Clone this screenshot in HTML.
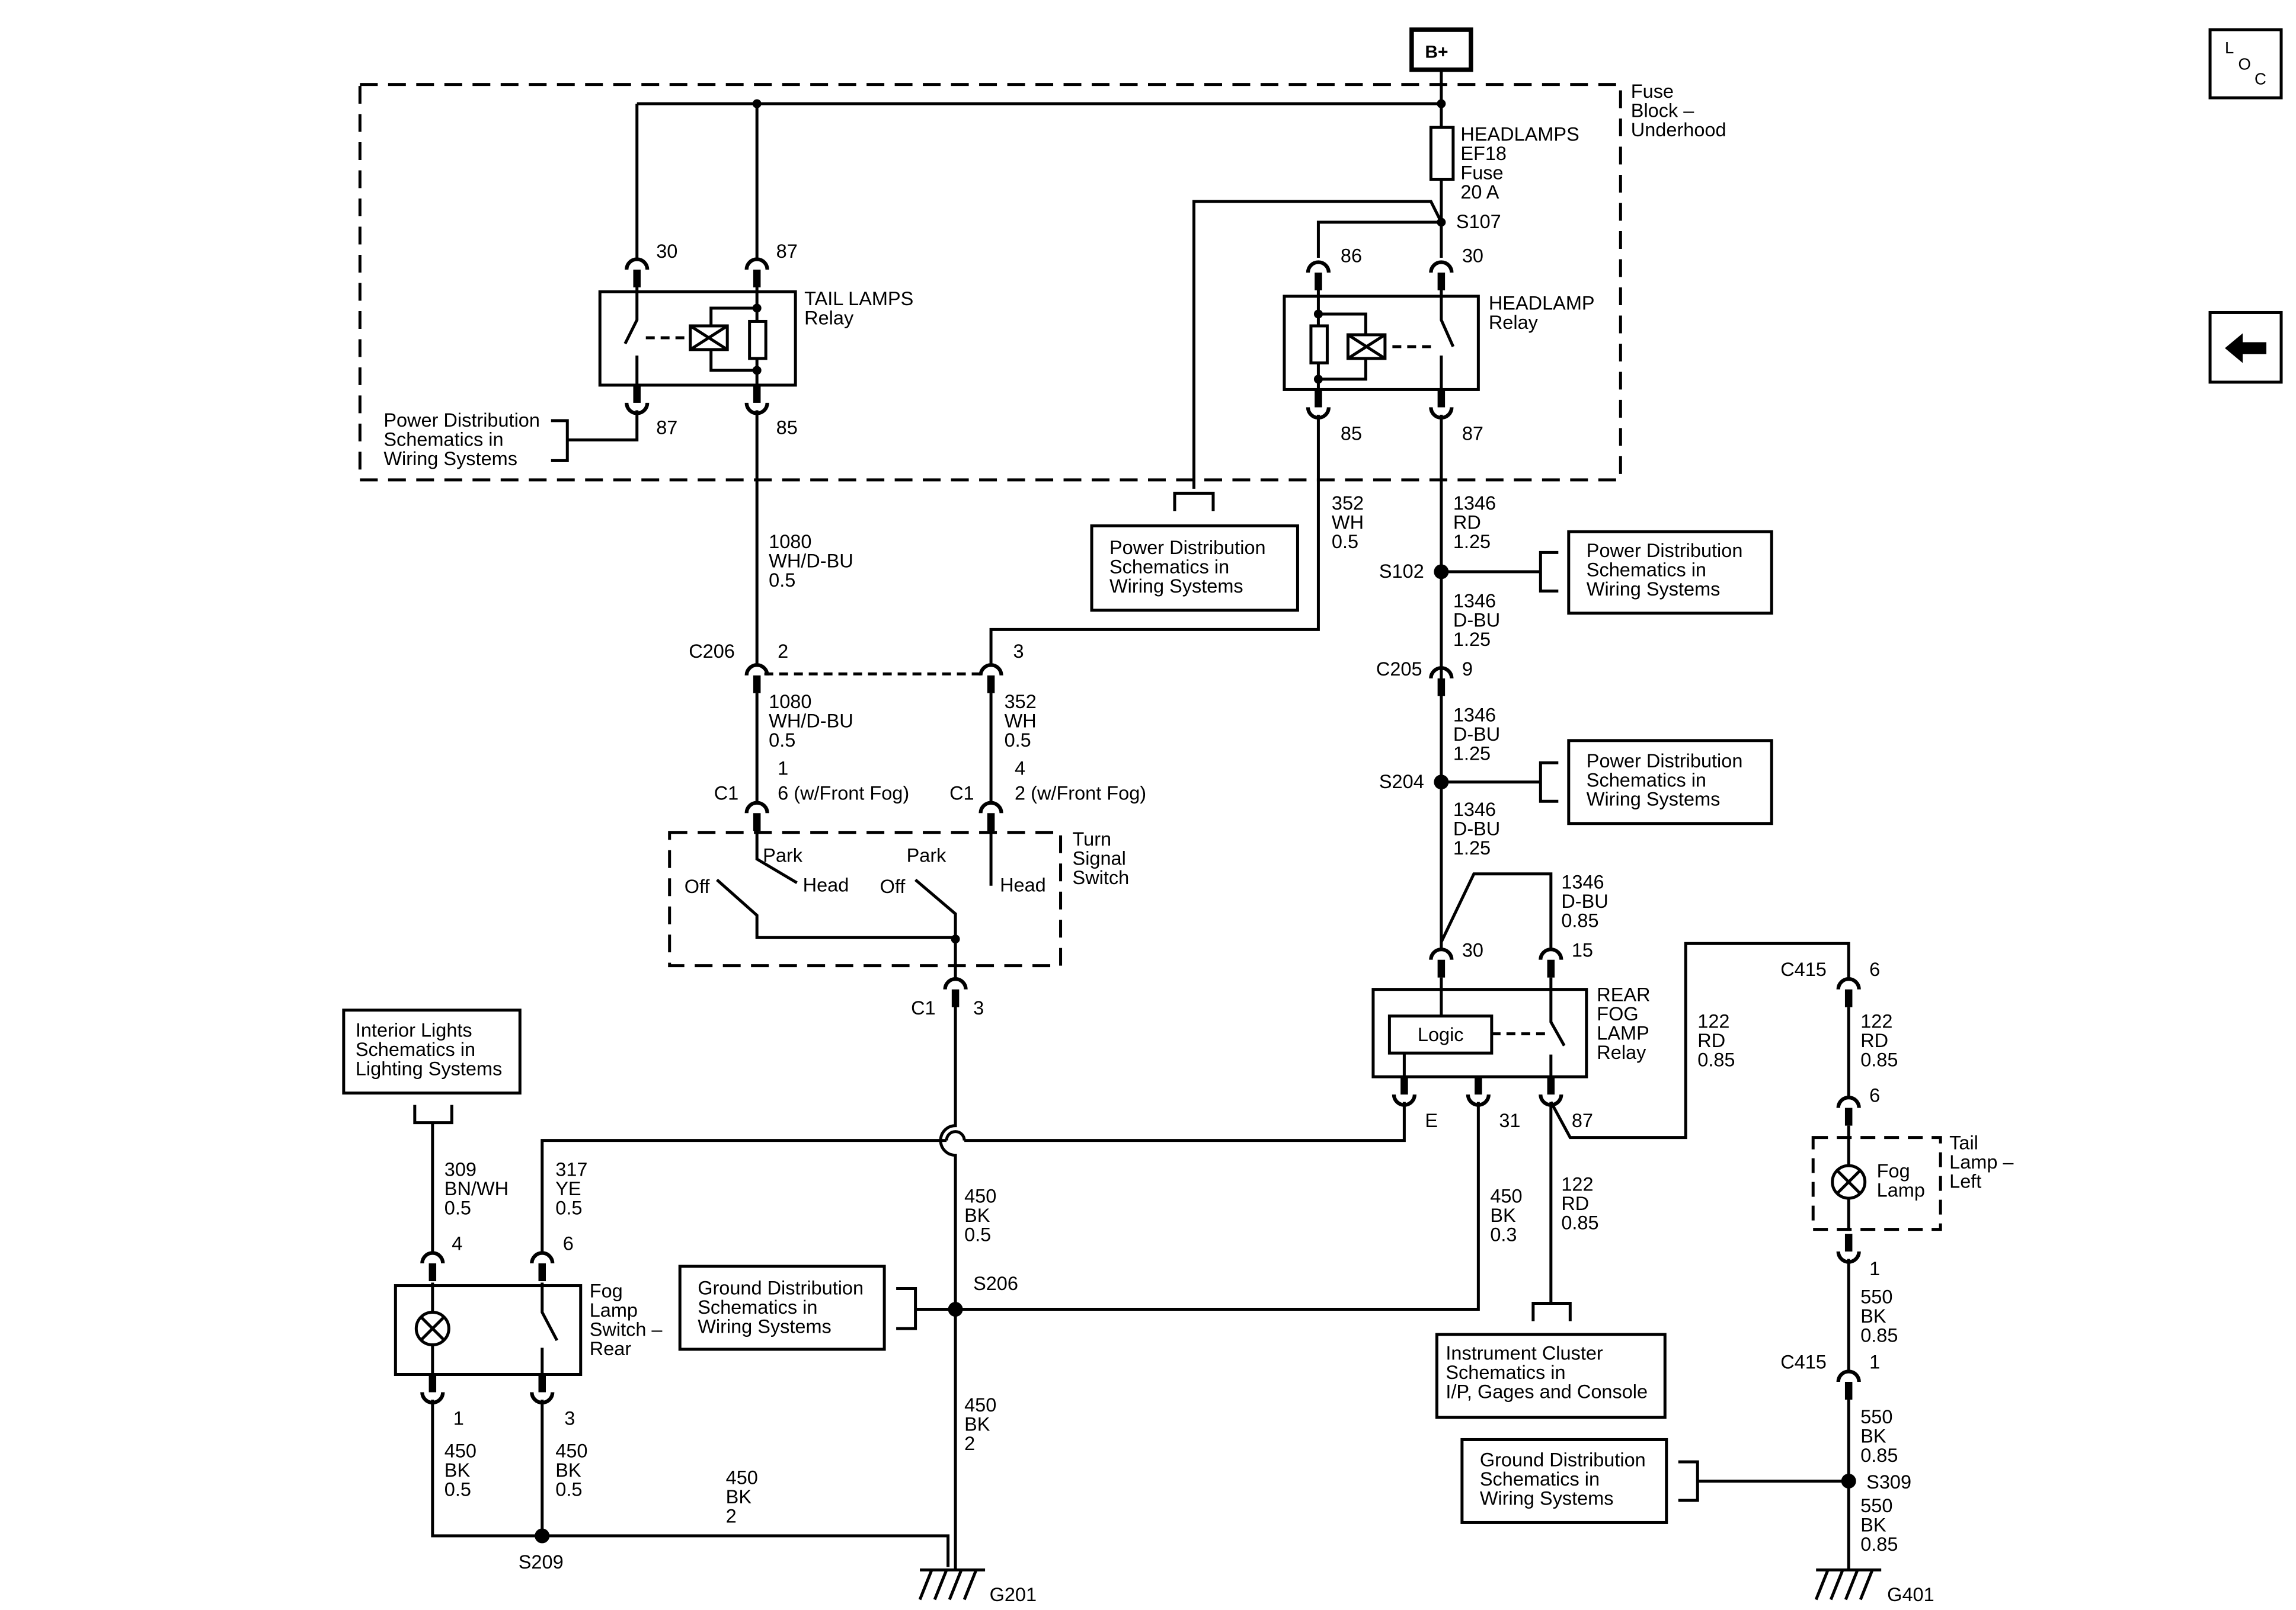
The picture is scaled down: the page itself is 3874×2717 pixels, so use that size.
<!DOCTYPE html>
<html><head><meta charset="utf-8"><style>
html,body{margin:0;padding:0;background:#fff}
svg{display:block}
text{font-family:"Liberation Sans",Arial,sans-serif;font-size:13px;fill:#000}
</style></head><body>
<svg width="3874" height="2717" viewBox="0 0 1550 1087" xmlns="http://www.w3.org/2000/svg">
<defs>
<g id="c"><path d="M-7,8 A7,7 0 0 1 7,8" fill="none" stroke="#000" stroke-width="2.5"/><rect x="-2.5" y="8" width="5" height="12" fill="#000"/></g>
<g id="cb"><rect x="-2.5" y="-12" width="5" height="12" fill="#000"/><path d="M-7,0 A7,7 0 0 0 7,0" fill="none" stroke="#000" stroke-width="2.5"/></g>
<g id="gnd"><line x1="-22" y1="0" x2="22" y2="0" stroke="#000" stroke-width="2"/><path d="M-14,0 L-22,20 M-4,0 L-12,20 M6,0 L-2,20 M16,0 L8,20" stroke="#000" stroke-width="2"/></g>
</defs>
<g fill="none" stroke="#000" stroke-width="2">
<rect x="953" y="20" width="40" height="27" stroke-width="3"/>
<rect x="243" y="57" width="851" height="267" stroke-dasharray="12,7"/>
<path d="M973,47 V70 M430,70 H973 M430,70 V174 M511,70 V174"/>
<rect x="966" y="86" width="15" height="35"/>
<path d="M973,70 V86 M973,121 V174"/>
<path d="M806,330 V136 H966 L973,150 M890,174 V150 H973"/>
<path d="M793,345 V333 H819 V345"/>
<rect x="737" y="355" width="139" height="57"/>
<!-- tail lamps relay -->
<rect x="405" y="197" width="132" height="63"/>
<path d="M430,192 V216 L422,232 M430,240 V260"/>
<path d="M436,228 H466" stroke-dasharray="6,4"/>
<rect x="466" y="220" width="25" height="16"/>
<path d="M466,220 L491,236 M466,236 L491,220"/>
<rect x="506" y="217" width="11" height="25"/>
<path d="M511,192 V217 M511,242 V262 M480,220 V208 H511 M480,236 V250 H511"/>
<path d="M430,277 V297 H383 M372,284 H383 V311 H372 M511,277 V448"/>
<!-- headlamp relay -->
<rect x="867" y="200" width="131" height="63"/>
<path d="M890,192 V220 M890,245 V266 M973,192 V216 L981,234 M973,240 V266"/>
<rect x="885" y="220" width="11" height="25"/>
<rect x="910" y="226" width="25" height="16"/>
<path d="M910,226 L935,242 M910,242 L935,226 M922,226 V212 H890 M922,242 V256 H890"/>
<path d="M940,234 H968" stroke-dasharray="6,4"/>
<path d="M890,280 V425 H669 V448"/>
<path d="M516,455 H664" stroke-dasharray="6,4"/>
<path d="M511,468 V541 M669,468 V541"/>
<!-- turn signal switch -->
<rect x="452" y="562" width="264" height="90" stroke-dasharray="12,7"/>
<path d="M511,560 V580 L538,596 M484,594 L511,618 V633 H645 M669,560 V598 M618,594 L645,617 V660"/>
<path d="M645,678 V760 A6,6 0 0 0 645,780 V1060"/>
<path d="M366,845 V770 H639 M651,770 H948 V744"/>
<path d="M639,770 A6,6 0 0 1 651,770"/>
<rect x="232" y="682" width="119" height="56"/>
<path d="M280,746 V758 H305 V746 M292,758 V845"/>
<!-- fog lamp switch -->
<rect x="267" y="868" width="125" height="60"/>
<circle cx="292" cy="897" r="11"/>
<path d="M284,889 L300,905 M300,889 L284,905 M292,866 V886 M292,908 V930 M366,866 V886 L376,905 M366,910 V930"/>
<path d="M292,945 V1037 H640 V1058 M366,945 V1037"/>
<rect x="459" y="855" width="138" height="56"/>
<path d="M605,870 H618 V897 H605 M618,884 H998 V744"/>
<!-- right column -->
<path d="M973,280 V640 M973,386 H1040 M1052,373 H1040 V399 H1052 M973,528 H1040 M1052,515 H1040 V541 H1052"/>
<rect x="1059" y="359" width="137" height="55"/>
<rect x="1059" y="500" width="137" height="56"/>
<path d="M973,636 L995,590 H1047 V640"/>
<rect x="927" y="668" width="144" height="59"/>
<rect x="938" y="686" width="69" height="25"/>
<path d="M973,660 V686 M1047,660 V690 L1056,706 M1047,712 V727 M948,711 V727"/>
<path d="M1007,698 H1045" stroke-dasharray="6,4"/>
<path d="M1047,744 V880 M1035,892 V880 H1060 V892 M1047,744 L1060,768 H1138 V637 H1248 V660"/>
<rect x="970" y="901" width="154" height="56"/>
<path d="M1248,680 V740 M1248,760 V787 M1248,809 V831 M1248,850 V925 M1248,945 V1060 M1146,1000 H1248 M1133,987 H1146 V1013 H1133"/>
<rect x="1224" y="768" width="86" height="62" stroke-dasharray="10,6"/>
<circle cx="1248" cy="798" r="11"/>
<path d="M1240,790 L1256,806 M1256,790 L1240,806"/>
<rect x="987" y="972" width="138" height="56"/>
<rect x="1492" y="20" width="48" height="46"/>
<rect x="1492" y="211" width="48" height="47"/>
</g>
<path d="M1502,235 L1514,225 V231 H1530 V239 H1514 V245 Z" fill="#000"/>
<g fill="#000">
<circle cx="973" cy="70" r="3"/><circle cx="511" cy="70" r="3"/><circle cx="973" cy="150" r="3"/>
<circle cx="511" cy="208" r="3"/><circle cx="511" cy="250" r="3"/><circle cx="890" cy="212" r="3"/><circle cx="890" cy="256" r="3"/>
<circle cx="973" cy="386" r="5"/><circle cx="973" cy="528" r="5"/><circle cx="645" cy="884" r="5"/>
<circle cx="366" cy="1037" r="5"/><circle cx="1248" cy="1000" r="5"/><circle cx="645" cy="634" r="3"/>
</g>
<use href="#c" x="430" y="174"/><use href="#c" x="511" y="174"/><use href="#c" x="890" y="176"/><use href="#c" x="973" y="176"/>
<use href="#cb" x="430" y="272"/><use href="#cb" x="511" y="272"/><use href="#cb" x="890" y="275"/><use href="#cb" x="973" y="275"/>
<use href="#c" x="511" y="448"/><use href="#c" x="669" y="448"/><use href="#c" x="973" y="450"/>
<use href="#c" x="511" y="541"/><use href="#c" x="669" y="541"/><use href="#c" x="645" y="660"/>
<use href="#c" x="973" y="640"/><use href="#c" x="1047" y="640"/>
<use href="#cb" x="948" y="739"/><use href="#cb" x="998" y="739"/><use href="#cb" x="1047" y="739"/>
<use href="#c" x="292" y="845"/><use href="#c" x="366" y="845"/><use href="#cb" x="292" y="940"/><use href="#cb" x="366" y="940"/>
<use href="#c" x="1248" y="660"/><use href="#c" x="1248" y="740"/><use href="#cb" x="1248" y="845"/><use href="#c" x="1248" y="925"/>
<use href="#gnd" x="643" y="1060"/><use href="#gnd" x="1248" y="1060"/>
<text x="962" y="39" style="font-weight:bold;font-size:12px">B+</text>
<text x="1502" y="36" style="font-size:11px">L</text><text x="1511" y="47" style="font-size:11px">O</text><text x="1522" y="57" style="font-size:11px">C</text>
<text x="1101" y="66">Fuse</text><text x="1101" y="79">Block –</text><text x="1101" y="92">Underhood</text>
<text x="986" y="95">HEADLAMPS</text><text x="986" y="108">EF18</text><text x="986" y="121">Fuse</text><text x="986" y="134">20 A</text>
<text x="983" y="154">S107</text>
<text x="443" y="174">30</text><text x="524" y="174">87</text><text x="905" y="177">86</text><text x="987" y="177">30</text>
<text x="543" y="206">TAIL LAMPS</text><text x="543" y="219">Relay</text>
<text x="1005" y="209">HEADLAMP</text><text x="1005" y="222">Relay</text>
<text x="443" y="293">87</text><text x="524" y="293">85</text><text x="905" y="297">85</text><text x="987" y="297">87</text>
<text x="259" y="288">Power Distribution</text><text x="259" y="301">Schematics in</text><text x="259" y="314">Wiring Systems</text>
<text x="749" y="374">Power Distribution</text><text x="749" y="387">Schematics in</text><text x="749" y="400">Wiring Systems</text>
<text x="899" y="344">352</text><text x="899" y="357">WH</text><text x="899" y="370">0.5</text>
<text x="519" y="370">1080</text><text x="519" y="383">WH/D-BU</text><text x="519" y="396">0.5</text>
<text x="465" y="444">C206</text><text x="525" y="444">2</text><text x="684" y="444">3</text>
<text x="519" y="478">1080</text><text x="519" y="491">WH/D-BU</text><text x="519" y="504">0.5</text>
<text x="678" y="478">352</text><text x="678" y="491">WH</text><text x="678" y="504">0.5</text>
<text x="525" y="523">1</text><text x="525" y="540">6 (w/Front Fog)</text><text x="482" y="540">C1</text>
<text x="685" y="523">4</text><text x="685" y="540">2 (w/Front Fog)</text><text x="641" y="540">C1</text>
<text x="724" y="571">Turn</text><text x="724" y="584">Signal</text><text x="724" y="597">Switch</text>
<text x="515" y="582">Park</text><text x="542" y="602">Head</text><text x="462" y="603">Off</text>
<text x="612" y="582">Park</text><text x="594" y="603">Off</text><text x="675" y="602">Head</text>
<text x="615" y="685">C1</text><text x="657" y="685">3</text>
<text x="240" y="700">Interior Lights</text><text x="240" y="713">Schematics in</text><text x="240" y="726">Lighting Systems</text>
<text x="300" y="794">309</text><text x="300" y="807">BN/WH</text><text x="300" y="820">0.5</text>
<text x="375" y="794">317</text><text x="375" y="807">YE</text><text x="375" y="820">0.5</text>
<text x="305" y="844">4</text><text x="380" y="844">6</text>
<text x="398" y="876">Fog</text><text x="398" y="889">Lamp</text><text x="398" y="902">Switch –</text><text x="398" y="915">Rear</text>
<text x="306" y="962">1</text><text x="381" y="962">3</text>
<text x="300" y="984">450</text><text x="300" y="997">BK</text><text x="300" y="1010">0.5</text>
<text x="375" y="984">450</text><text x="375" y="997">BK</text><text x="375" y="1010">0.5</text>
<text x="490" y="1002">450</text><text x="490" y="1015">BK</text><text x="490" y="1028">2</text>
<text x="350" y="1059">S209</text><text x="668" y="1081">G201</text>
<text x="651" y="812">450</text><text x="651" y="825">BK</text><text x="651" y="838">0.5</text>
<text x="657" y="871">S206</text>
<text x="471" y="874">Ground Distribution</text><text x="471" y="887">Schematics in</text><text x="471" y="900">Wiring Systems</text>
<text x="651" y="953">450</text><text x="651" y="966">BK</text><text x="651" y="979">2</text>
<text x="1006" y="812">450</text><text x="1006" y="825">BK</text><text x="1006" y="838">0.3</text>
<text x="981" y="344">1346</text><text x="981" y="357">RD</text><text x="981" y="370">1.25</text>
<text x="931" y="390">S102</text>
<text x="1071" y="376">Power Distribution</text><text x="1071" y="389">Schematics in</text><text x="1071" y="402">Wiring Systems</text>
<text x="981" y="410">1346</text><text x="981" y="423">D-BU</text><text x="981" y="436">1.25</text>
<text x="929" y="456">C205</text><text x="987" y="456">9</text>
<text x="981" y="487">1346</text><text x="981" y="500">D-BU</text><text x="981" y="513">1.25</text>
<text x="931" y="532">S204</text>
<text x="1071" y="518">Power Distribution</text><text x="1071" y="531">Schematics in</text><text x="1071" y="544">Wiring Systems</text>
<text x="981" y="551">1346</text><text x="981" y="564">D-BU</text><text x="981" y="577">1.25</text>
<text x="1054" y="600">1346</text><text x="1054" y="613">D-BU</text><text x="1054" y="626">0.85</text>
<text x="987" y="646">30</text><text x="1061" y="646">15</text>
<text x="957" y="703">Logic</text>
<text x="1078" y="676">REAR</text><text x="1078" y="689">FOG</text><text x="1078" y="702">LAMP</text><text x="1078" y="715">Relay</text>
<text x="962" y="761">E</text><text x="1012" y="761">31</text><text x="1061" y="761">87</text>
<text x="1054" y="804">122</text><text x="1054" y="817">RD</text><text x="1054" y="830">0.85</text>
<text x="1146" y="694">122</text><text x="1146" y="707">RD</text><text x="1146" y="720">0.85</text>
<text x="976" y="918">Instrument Cluster</text><text x="976" y="931">Schematics in</text><text x="976" y="944">I/P, Gages and Console</text>
<text x="1202" y="659">C415</text><text x="1262" y="659">6</text>
<text x="1256" y="694">122</text><text x="1256" y="707">RD</text><text x="1256" y="720">0.85</text>
<text x="1262" y="744">6</text>
<text x="1267" y="795">Fog</text><text x="1267" y="808">Lamp</text>
<text x="1316" y="776">Tail</text><text x="1316" y="789">Lamp –</text><text x="1316" y="802">Left</text>
<text x="1262" y="861">1</text>
<text x="1256" y="880">550</text><text x="1256" y="893">BK</text><text x="1256" y="906">0.85</text>
<text x="1202" y="924">C415</text><text x="1262" y="924">1</text>
<text x="1256" y="961">550</text><text x="1256" y="974">BK</text><text x="1256" y="987">0.85</text>
<text x="1260" y="1005">S309</text>
<text x="999" y="990">Ground Distribution</text><text x="999" y="1003">Schematics in</text><text x="999" y="1016">Wiring Systems</text>
<text x="1256" y="1021">550</text><text x="1256" y="1034">BK</text><text x="1256" y="1047">0.85</text>
<text x="1274" y="1081">G401</text>
</svg>
</body></html>
